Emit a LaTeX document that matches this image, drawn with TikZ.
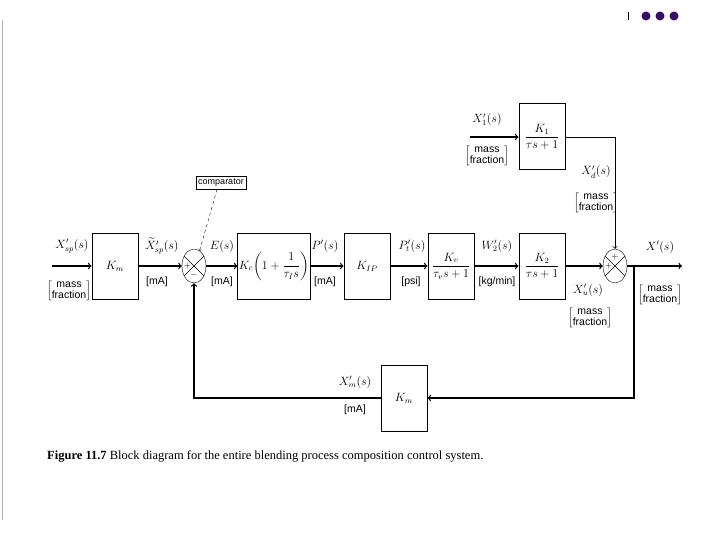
\documentclass[tikz,border=0pt]{standalone}
\usepackage{fontspec}
\usepackage{amsmath}
\setmainfont{Liberation Serif}
\setsansfont{Liberation Sans}
\usetikzlibrary{shapes.geometric,positioning}
\definecolor{dotpurple}{RGB}{58,12,104}
\newcommand{\massfrac}{$\left[\mbox{\renewcommand{\arraystretch}{0.85}\begin{tabular}{@{}c@{}}mass\\fraction\end{tabular}}\right]$}

\begin{document}
\begin{tikzpicture}[x=1pt, y=-1pt,
    block/.style={draw, line width=1pt, minimum width=46pt, minimum height=66pt, inner sep=1pt, font=\large},
    sumjunc/.style={draw, ellipse, minimum width=24pt, minimum height=34pt, inner sep=0pt},
    arrow/.style={->, >=to, line width=1.3pt},
    label/.style={font=\large, inner sep=1pt},
    unit/.style={font=\sffamily\fontsize{10.5}{12}\selectfont, inner sep=1pt},
    sign/.style={font=\small, inner sep=0pt}
]
    \useasboundingbox (0,0) rectangle (720,540);

    % Page marks
    \draw[gray!60] (2,20) -- (2,520);
    \draw[thick] (628,12) -- (628,20);
    \foreach \x in {646,660,674}
        \fill[dotpurple] (\x,16) circle (4.5);

    % Blocks
    \node[block] (Km) at (115,266) {$K_m$};
    \node[sumjunc] (cmp) at (194,266) {};
    \node[block, minimum width=66pt] (Kc) at (274,266) {$K_c\!\left(1+\dfrac{1}{\tau_I s}\right)$};
    \node[block] (KIP) at (367,266) {$K_{IP}$};
    \node[block] (Kv) at (451,266) {$\dfrac{K_v}{\tau_v s+1}$};
    \node[block] (K2) at (542,266) {$\dfrac{K_2}{\tau s+1}$};
    \node[block] (K1) at (542,137) {$\dfrac{K_1}{\tau s+1}$};
    \node[sumjunc] (sum) at (615,266) {};
    \node[block] (Kmf) at (404,398) {$K_m$};
    \node[draw, thin, font=\sffamily\small, inner sep=2.5pt] (cmplbl) at (221,183) {comparator};

    % Free ends
    \coordinate (in) at (52,266);
    \coordinate (out) at (682,266);
    \coordinate (dist) at (470,137);
    \coordinate (br) at (634,266);

    % Crosses and signs
    \draw (cmp.45) -- (cmp.225) (cmp.135) -- (cmp.315);
    \draw (sum.45) -- (sum.225) (sum.135) -- (sum.315);
    \node[sign] at ([xshift=-6.5pt]cmp.center) {$+$};
    \node[sign] at ([yshift=-9pt]cmp.center) {$-$};
    \node[sign] at ([xshift=-6.5pt]sum.center) {$+$};
    \node[sign] at ([yshift=9pt]sum.center) {$+$};

    % Signals
    \draw[arrow] (in) -- (Km);
    \draw[arrow] (Km) -- (cmp);
    \draw[arrow] (cmp) -- (Kc);
    \draw[arrow] (Kc) -- (KIP);
    \draw[arrow] (KIP) -- (Kv);
    \draw[arrow] (Kv) -- (K2);
    \draw[arrow] (K2) -- (sum);
    \draw[arrow] (sum) -- (out);
    \draw[arrow] (dist) -- (K1);
    \draw[->, >=to, thick] (K1) -| (sum);
    \draw[arrow] (br) |- (Kmf);
    \draw[arrow] (Kmf) -| (cmp);
    \draw[->, >=to, thin, dashed] ([xshift=-4pt]cmplbl.south) -- (cmp.70);

    % Labels
    \node[label] (lXsp) at (72,246) {$X'_{sp}(s)$};
    \node[unit] (uXsp) at (69,291) {\massfrac};
    \node[label] (lXt) at (162,246) {$\widetilde{X}'_{sp}(s)$};
    \node[unit] (uXt) at (157,282) {[mA]};
    \node[label] (lE) at (222,246) {$E(s)$};
    \node[unit] (uE) at (222,282) {[mA]};
    \node[label] (lP) at (325,246) {$P'(s)$};
    \node[unit] (uP) at (325,282) {[mA]};
    \node[label] (lPt) at (412,246) {$P'_t(s)$};
    \node[unit] (uPt) at (411,282) {[psi]};
    \node[label] (lW) at (497,246) {$W'_2(s)$};
    \node[unit] (uW) at (497,282) {[kg/min]};
    \node[label] (lXu) at (588,290) {$X'_u(s)$};
    \node[unit] (uXu) at (590,318) {\massfrac};
    \node[label] (lX) at (660,247) {$X'(s)$};
    \node[unit] (uX) at (660,295) {\massfrac};
    \node[label] (lX1) at (487,120) {$X'_1(s)$};
    \node[unit] (uX1) at (487,156) {\massfrac};
    \node[label] (lXd) at (596,172) {$X'_d(s)$};
    \node[unit] (uXd) at (596,203) {\massfrac};
    \node[label] (lXm) at (355,382) {$X'_m(s)$};
    \node[unit] (uXm) at (355,410) {[mA]};

    % Caption
    \node[anchor=west, font=\fontsize{12.5}{15}\selectfont, inner sep=0pt] (cap) at (47,456)
        {\textbf{Figure 11.7} Block diagram for the entire blending process composition control system.};
\end{tikzpicture}
\end{document}
